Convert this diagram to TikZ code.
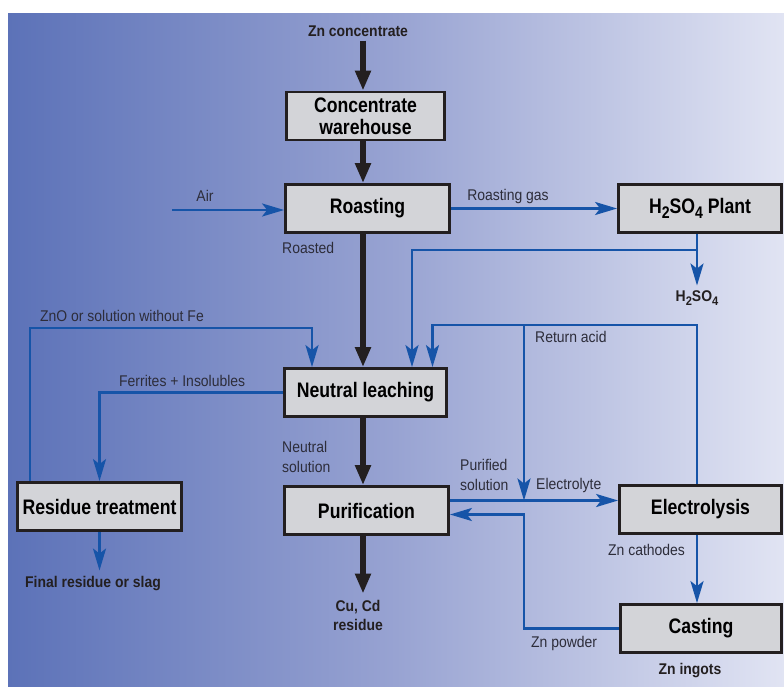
\documentclass[tikz,border=0pt]{standalone}
\usepackage{fontspec}
\setmainfont{Liberation Sans}[FakeStretch=0.9]
\newfontfamily\boxfont{Liberation Sans}[FakeStretch=0.84]
\usetikzlibrary{arrows.meta}

\definecolor{flowblue}{RGB}{22,84,168}
\definecolor{inkblack}{RGB}{35,31,32}
\definecolor{labelgray}{RGB}{45,45,58}
\definecolor{boxgray}{RGB}{211,212,216}
\definecolor{bgleft}{RGB}{92,114,184}
\definecolor{bgmid}{RGB}{152,163,210}
\definecolor{bgright}{RGB}{225,228,243}

\newcommand{\chemsub}[1]{\raisebox{-0.45ex}{\scalebox{0.8}{#1}}}

\tikzset{
  procbox/.style={draw=inkblack, line width=2.8pt, fill=boxgray, minimum width=#1,
    minimum height=48pt, inner sep=0pt, align=center,
    font=\boxfont\fontsize{21}{22}\selectfont\bfseries},
  procbox/.default=162pt,
  lbl/.style={inner sep=0pt, text=labelgray, font=\fontsize{15.5}{20}\selectfont},
  boldlbl/.style={inner sep=0pt, text=inkblack, font=\fontsize{15.5}{19}\selectfont\bfseries},
  mainflow/.style={draw=inkblack, line width=5.5pt, -{Triangle[length=20pt,width=15pt]}},
  flow/.style={draw=flowblue, line width=2.6pt, -{Stealth[length=22pt,width=13pt,inset=5pt]}}
}

\begin{document}
\begin{tikzpicture}[x=1pt,y=-1pt]
\useasboundingbox (0,0) rectangle (784,686);
\fill[left color=bgleft, right color=bgright, middle color=bgmid] (8,13) rectangle (784,686);

\node[procbox=158pt] (cw) at (365.5,116) {Concentrate\\warehouse};
\node[procbox=164pt] (roast) at (367.5,208.5) {Roasting};
\node[procbox=163pt] (acid) at (700,208.5) {H\chemsub{2}SO\chemsub{4} Plant};
\node[procbox=162pt] (nl) at (365.5,392.5) {Neutral leaching};
\node[procbox=164pt] (resid) at (99.5,506.5) {Residue treatment};
\node[procbox=164pt] (purif) at (366.5,510.5) {Purification};
\node[procbox=162pt] (elec) at (700.5,509.5) {Electrolysis};
\node[procbox=161pt] (cast) at (701,628.5) {Casting};

\node[boldlbl] (znconc) at (358,31) {Zn concentrate};
\node[lbl] (airlbl) at (205,196) {Air};
\node[lbl] (gaslbl) at (508,196) {Roasting gas};
\node[lbl, anchor=west] (roastedlbl) at (282,248) {Roasted};
\node[boldlbl] (acidout) at (697,298) {H\chemsub{2}SO\chemsub{4}};
\node[lbl, anchor=west] (znolbl) at (40,316) {ZnO or solution without Fe};
\node[lbl, anchor=west] (ferrlbl) at (119,381) {Ferrites + Insolubles};
\node[lbl, anchor=west] (retlbl) at (535,337) {Return acid};
\node[lbl, anchor=west, align=left] (neutlbl) at (282,457) {Neutral\\solution};
\node[lbl, anchor=west, align=left] (purlbl) at (460,475) {Purified\\solution};
\node[lbl, anchor=west] (electlbl) at (536,485) {Electrolyte};
\node[boldlbl, align=center] (cucd) at (358,615) {Cu, Cd\\residue};
\node[lbl, anchor=west] (cathlbl) at (608,550) {Zn cathodes};
\node[lbl, anchor=west] (powlbl) at (531,643) {Zn powder};
\node[boldlbl] (ingots) at (690,671) {Zn ingots};
\node[boldlbl] (finalres) at (93,584) {Final residue or slag};

\coordinate (col) at (363,0);
\coordinate (airin) at (172,210);
\coordinate (acidtap) at (697,250);
\coordinate (retjoin) at (524,325);
\coordinate (znocorner) at (30,328);
\coordinate (elin) at ([yshift=10pt]purif.east);
\coordinate (powin) at ([yshift=-4pt]purif.east);

\draw[mainflow, shorten <=4pt] (col |- znconc.south) -- (col |- cw.north);
\draw[mainflow] (col |- cw.south) -- (col |- roast.north);
\draw[mainflow] (col |- roast.south) -- (col |- nl.north);
\draw[mainflow] (col |- nl.south) -- (col |- purif.north);
\draw[mainflow, shorten >=6pt] (col |- purif.south) -- (col |- cucd.north);

\draw[flow] (airin) -- (airin -| roast.west);
\draw[flow] (roast.east) -- (acid.west);
\draw[flow, shorten >=5pt] (acidtap |- acid.south) -- (acidtap |- acidout.north);
\draw[flow] (acidtap) -| ([xshift=46.5pt]nl.north);
\draw[flow] (acidtap |- elec.north) |- (retjoin) -| ([xshift=67pt]nl.north);
\draw[flow] (retjoin) -- (retjoin |- elin);
\draw[flow] (elin) -- (elin -| elec.west);
\draw[flow] (cast.west) -| (retjoin |- powin) -- (powin);
\draw[flow] (acidtap |- elec.south) -- (acidtap |- cast.north);
\draw[flow] (resid.north -| znocorner) -- (znocorner) -| ([xshift=-53.5pt]nl.north);
\draw[flow] (nl.west) -| (resid.north);
\draw[flow, shorten >=6pt] (resid.south) -- (resid.south |- finalres.north);
\end{tikzpicture}
\end{document}
